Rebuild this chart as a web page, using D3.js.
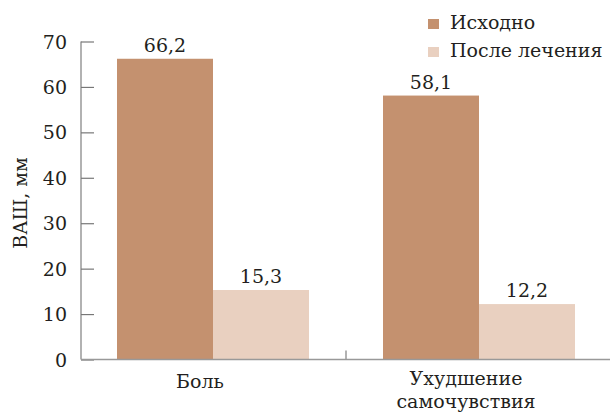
<!DOCTYPE html>
<html>
<head>
<meta charset="utf-8">
<script src="https://cdn.jsdelivr.net/npm/d3@7"></script>
<style>
  body { margin: 0; background: #fff; }
  svg text { font-family: "DejaVu Serif", serif; fill: #231f20; }
</style>
</head>
<body>
<div id="chart"></div>
<script>
const categories = ["Боль", "Ухудшение\nсамочувствия"];
const seriesNames = ["Исходно", "После лечения"];
const baseline = [66.2, 58.1];
const afterTreatment = [15.3, 12.2];
const yTicks = [0, 10, 20, 30, 40, 50, 60, 70];

const colors = ["#c4916f", "#e9d0c0"];
const width = 610, height = 415;
const fs = "19px";

const svg = d3.select("#chart").append("svg")
    .attr("width", width)
    .attr("height", height);

const x = d3.scaleBand().domain(categories).range([80, 612]).padding(0);
const inner = d3.scaleBand().domain(seriesNames)
    .range([x.bandwidth() / 2 - 96, x.bandwidth() / 2 + 96]);
const y = d3.scaleLinear().domain([0, 70]).range([359.5, 41.5]);

const data = categories.map((c, i) => ({
    cat: c,
    values: [baseline[i], afterTreatment[i]]
}));

// Bars
const groups = svg.selectAll(".grp")
    .data(data)
    .enter()
    .append("g")
    .attr("transform", d => `translate(${x(d.cat)},0)`);

groups.selectAll("rect")
    .data(d => d.values.map((v, j) => ({ name: seriesNames[j], v, j })))
    .enter()
    .append("rect")
    .attr("x", d => inner(d.name))
    .attr("width", inner.bandwidth())
    .attr("y", d => y(d.v))
    .attr("height", d => y(0) - y(d.v))
    .attr("fill", d => colors[d.j]);

groups.selectAll(".val")
    .data(d => d.values.map((v, j) => ({ name: seriesNames[j], v })))
    .enter()
    .append("text")
    .attr("x", d => inner(d.name) + inner.bandwidth() / 2)
    .attr("y", d => y(d.v) - 7)
    .attr("text-anchor", "middle")
    .style("font-size", fs)
    .text(d => d.v.toFixed(1).replace(".", ","));

// Y axis
const yAxis = svg.append("g")
    .attr("transform", "translate(81,0)")
    .call(d3.axisRight(y).tickValues(yTicks).tickSize(13).tickFormat(""));
yAxis.select(".domain").attr("stroke", "#999").attr("stroke-width", 1.5)
    .attr("d", `M0,${y(70)}V${y(0)}`);
yAxis.selectAll(".tick line").attr("stroke", "#777").attr("stroke-width", 1.2);

svg.selectAll(".ylab")
    .data(yTicks)
    .enter()
    .append("text")
    .attr("x", 67)
    .attr("y", d => y(d) + 7)
    .attr("text-anchor", "end")
    .style("font-size", fs)
    .text(d => d);

// X axis
svg.append("line")
    .attr("x1", 81).attr("x2", 610)
    .attr("y1", y(0)).attr("y2", y(0))
    .attr("stroke", "#999").attr("stroke-width", 1.5);

svg.append("line")
    .attr("x1", x(categories[1])).attr("x2", x(categories[1]))
    .attr("y1", y(0)).attr("y2", y(0) - 9)
    .attr("stroke", "#999").attr("stroke-width", 1.5);

svg.selectAll(".xlab")
    .data(categories)
    .enter()
    .append("text")
    .attr("text-anchor", "middle")
    .attr("y", (d, i) => i === 0 ? 388 : 385)
    .style("font-size", fs)
    .each(function(d) {
        const cx = x(d) + x.bandwidth() / 2 - 13;
        d3.select(this).selectAll("tspan")
            .data(d.split("\n"))
            .enter()
            .append("tspan")
            .attr("x", cx)
            .attr("dy", (l, i) => i === 0 ? 0 : 23)
            .text(l => l);
    });

// Y title
svg.append("text")
    .attr("transform", "translate(27,203) rotate(-90)")
    .attr("text-anchor", "middle")
    .style("font-size", fs)
    .text("ВАШ, мм");

// Legend
const legend = svg.selectAll(".legend")
    .data(seriesNames)
    .enter()
    .append("g")
    .attr("transform", (d, i) => `translate(428, ${i * 28})`);

legend.append("rect")
    .attr("x", 0)
    .attr("y", 19)
    .attr("width", 11)
    .attr("height", 10)
    .attr("fill", (d, i) => colors[i]);

legend.append("text")
    .attr("x", 22)
    .attr("y", 29)
    .style("font-size", fs)
    .text(d => d);
</script>
</body>
</html>
